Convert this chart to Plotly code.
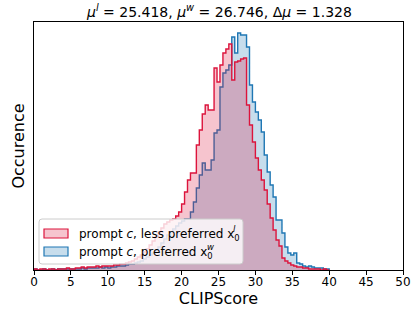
import numpy as np
import plotly.graph_objects as go

# ---------------- data ----------------
BIN_START = 0.0
BIN_WIDTH = 0.4

# counts per bin (arbitrary units, y tick labels are hidden)
red_counts = [
    1, 0, 1, 1, 0,   1, 1, 0, 1, 1,   1, 2, 1, 1, 2,   2, 3, 2, 3, 3,
    3, 4, 3, 4, 4,   4, 4, 5, 5, 6,   6, 7, 8, 9, 11,  13, 15, 18, 21, 25,
    29, 33, 38, 42, 46,  48, 50, 51, 54, 58,  66, 78, 90, 97, 97,
    125, 140, 156, 165, 160,  160, 202, 188, 205, 217,  221, 226, 190, 208, 209,
    211, 212, 165, 145, 128,  112, 100, 90, 80, 66,  52, 40, 30, 24, 12,
    9, 7, 5, 4, 3,   3, 2, 2, 1, 1,   1, 1, 0, 1, 0,
]
blue_counts = [
    1, 0, 0, 1, 0,   0, 1, 0, 1, 1,   1, 1, 1, 1, 1,   1, 2, 1, 2, 2,
    2, 2, 3, 2, 3,   2, 3, 3, 4, 4,   4, 5, 6, 6, 7,   8, 9, 11, 13, 15,
    17, 20, 23, 27, 31,  35, 38, 41, 44, 47,  49, 51, 51, 58, 68,
    82, 95, 107, 100, 100,  110, 137, 140, 183, 197,  200, 205, 233, 217, 237,
    235, 235, 223, 185, 168,  158, 150, 138, 115, 98,  85, 73, 50, 50, 37,
    23, 17, 15, 17, 7,   6, 4, 3, 4, 3,   2, 2, 2, 1, 1,
]

x_ticks = [0, 5, 10, 15, 20, 25, 30, 35, 40, 45, 50]
label_red = "prompt <i>c</i>, less preferred x<sub>0</sub>"
label_red_sup = "<i>l</i>"
label_blue = "prompt <i>c</i>, preferred x<sub>0</sub>"
label_blue_sup = "<i>w</i>"
title_text = ("<i>μ</i><sup><i>l</i></sup> = 25.418, <i>μ</i><sup><i>w</i></sup> = 26.746, "
              "Δ<i>μ</i> = 1.328")

RED = "#dc143c"
BLUE = "#1f77b4"
RED_FILL = "rgba(220,20,60,0.25)"
BLUE_FILL = "rgba(31,119,180,0.25)"
FONT = "DejaVu Sans"

# ---------------- figure ----------------
W, H = 411, 312
ML, MR, MT, MB = 34, 8, 22, 42
PW, PH = W - ML - MR, H - MT - MB


def px(xp):
    return (xp - ML) / PW


def py(yp):
    return (H - MB - yp) / PH


def step_xy(counts):
    edges = BIN_START + BIN_WIDTH * np.arange(len(counts) + 1)
    xs = [edges[0]] + list(edges[:-1]) + [edges[-1], edges[-1]]
    ys = [0] + list(counts) + [counts[-1], 0]
    return xs, ys


fig = go.Figure()
for counts, col, fcol in [(blue_counts, BLUE, BLUE_FILL), (red_counts, RED, RED_FILL)]:
    xs, ys = step_xy(counts)
    fig.add_trace(go.Scatter(
        x=xs, y=ys, mode="lines",
        line=dict(color=col, width=1.4, shape="hv"),
        fill="tozeroy", fillcolor=fcol, showlegend=False, hoverinfo="skip",
    ))

# ---------------- manual matplotlib-like legend ----------------
bx0, bx1, by0, by1 = px(39), px(243), py(264), py(219)
rx, ry = 3 / PW, 3 / PH
path = (f"M {bx0+rx},{by0} L {bx1-rx},{by0} Q {bx1},{by0} {bx1},{by0+ry} "
        f"L {bx1},{by1-ry} Q {bx1},{by1} {bx1-rx},{by1} L {bx0+rx},{by1} "
        f"Q {bx0},{by1} {bx0},{by1-ry} L {bx0},{by0+ry} Q {bx0},{by0} {bx0+rx},{by0} Z")
shapes = [dict(type="path", xref="paper", yref="paper", path=path,
               fillcolor="rgba(255,255,255,0.8)", line=dict(color="#cccccc", width=1))]
annotations = []
for (yt, yb, ytxt), col, fcol, lab, sup, xsup in [
        ((229, 238, 233), RED, RED_FILL, label_red, label_red_sup, 231),
        ((247, 256, 251), BLUE, BLUE_FILL, label_blue, label_blue_sup, 205)]:
    shapes.append(dict(type="rect", xref="paper", yref="paper",
                       x0=px(44), x1=px(68), y0=py(yb), y1=py(yt),
                       fillcolor=fcol, line=dict(color=col, width=1.2)))
    annotations.append(dict(xref="paper", yref="paper", x=px(77), y=py(ytxt + 2),
                            xanchor="left", yanchor="middle", showarrow=False,
                            text=lab, font=dict(family=FONT, size=12, color="black")))
    annotations.append(dict(xref="paper", yref="paper", x=px(xsup), y=py(ytxt - 4),
                            xanchor="left", yanchor="middle", showarrow=False,
                            text=sup, font=dict(family=FONT, size=8.5, color="black")))

annotations.append(dict(xref="paper", yref="paper", x=0.5, y=py(11),
                        xanchor="center", yanchor="middle", showarrow=False,
                        text=title_text, font=dict(family=FONT, size=14, color="black")))

fig.update_layout(
    width=W, height=H,
    margin=dict(l=ML, r=MR, t=MT, b=MB, pad=0),
    paper_bgcolor="white", plot_bgcolor="white",
    font=dict(family=FONT, size=12, color="black"),
    shapes=shapes, annotations=annotations,
    xaxis=dict(range=[0, 50], tickvals=x_ticks, ticks="outside", ticklen=4,
               tickwidth=1, tickcolor="black", showline=True, linecolor="black",
               linewidth=1, mirror=True, showgrid=False, zeroline=False,
               automargin=False, ticklabelstandoff=-3,
               tickfont=dict(family=FONT, size=12, color="black"),
               title=dict(text="CLIPScore", font=dict(family=FONT, size=16, color="black"),
                          standoff=2)),
    yaxis=dict(range=[0, 248], showticklabels=False, ticks="", showline=True,
               linecolor="black", linewidth=1, mirror=True, showgrid=False,
               zeroline=False, automargin=False,
               title=dict(text="Occurence", font=dict(family=FONT, size=16, color="black"),
                          standoff=4)),
)

fig.write_html("out.html", config={"displayModeBar": False},
               post_script="document.body.style.margin='0';")
